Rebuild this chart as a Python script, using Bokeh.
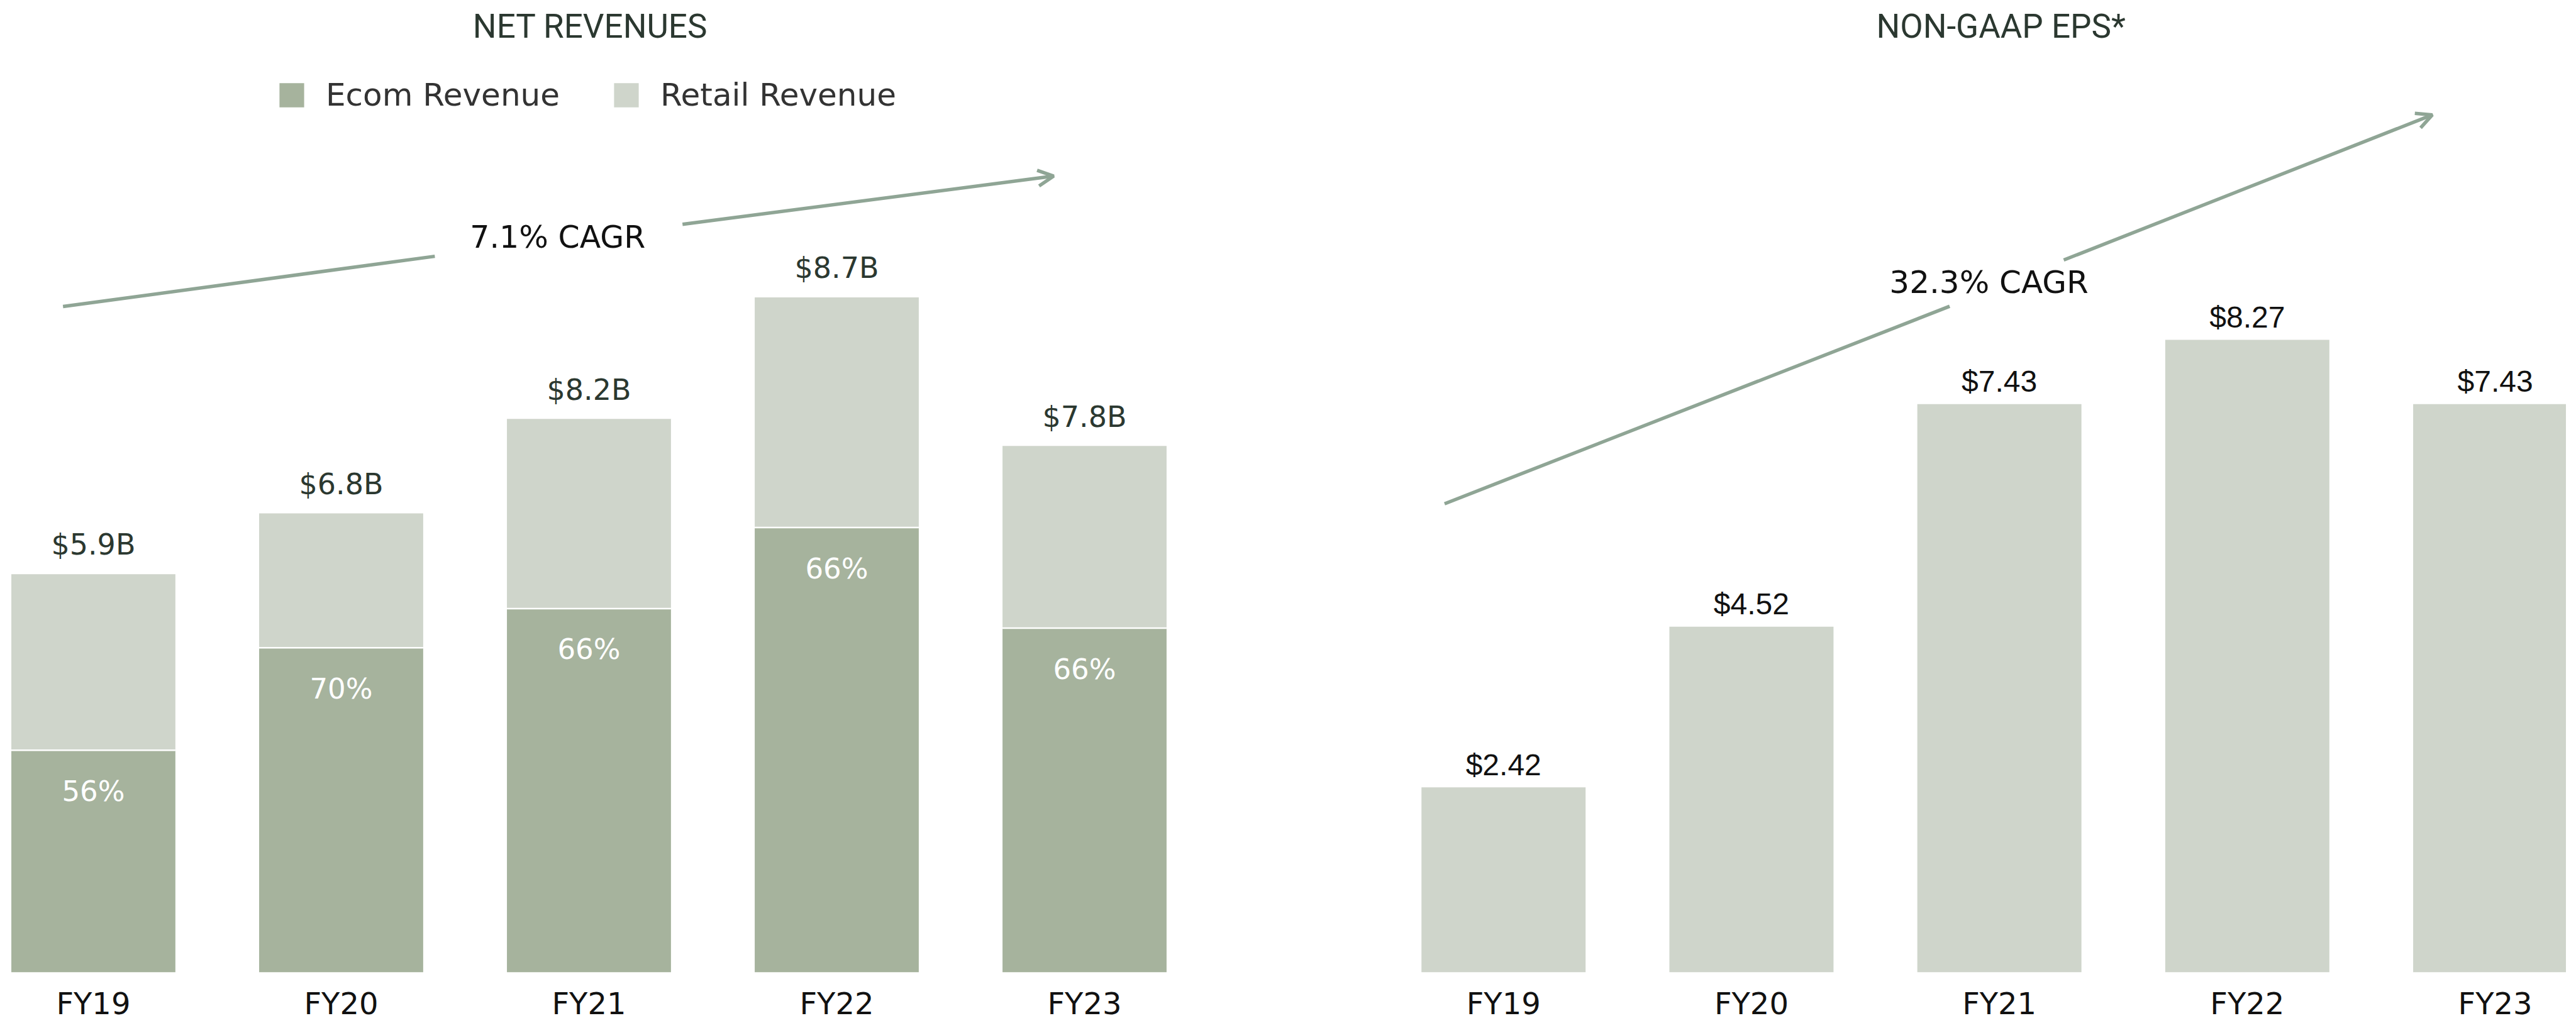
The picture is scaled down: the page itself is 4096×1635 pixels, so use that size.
from bokeh.plotting import figure
from bokeh.layouts import row
from bokeh.models import (Range1d, FixedTicker, Arrow, OpenHead, Label, Legend, LegendItem)
from bokeh.core.properties import value
from bokeh.embed import file_html
from bokeh.resources import INLINE

# ---------------- data ----------------
categories = ["FY19", "FY20", "FY21", "FY22", "FY23"]
series_names = ["Ecom Revenue", "Retail Revenue"]
# bar segment heights in $B, as drawn in the picture
ecom_revenue = [3.29, 4.81, 5.39, 6.59, 5.10]
retail_revenue = [2.61, 1.99, 2.81, 3.41, 2.70]
total_labels = ["$5.9B", "$6.8B", "$8.2B", "$8.7B", "$7.8B"]
ecom_share_labels = ["56%", "70%", "66%", "66%", "66%"]
eps = [2.42, 4.52, 7.43, 8.27, 7.43]
eps_labels = ["$2.42", "$4.52", "$7.43", "$8.27", "$7.43"]
revenue_cagr = "7.1% CAGR"
eps_cagr = "32.3% CAGR"
titles = ["NET REVENUES", "NON-GAAP EPS*"]

# ---------------- style / geometry ----------------
S = 0.987
H = 1626
W1, W2 = 2000, 2080
FRAME_H = 1548
BORDER_B = H - FRAME_H
ECOM = "#a6b39d"
RETAIL = "#cfd5cb"
ARROW = "#8fa595"
DARK = "#2b3830"
BLACK = "#111111"
BAR_W = 0.662
SANS = "DejaVu Sans"
TITLE_FONT = "Roboto"


def c(v):
    return S * v


x0L, pL, ppuL = c(149.9), S * 399.2, S * 108.9
x0R, pR, ppuR = c(2421.7) - W1, S * 399.4, S * 123.4


def dL(xr, yr):
    return (c(xr) - x0L) / pL, (FRAME_H - c(yr)) / ppuL


def dR(xr, yr):
    return (c(xr) - W1 - x0R) / pR, (FRAME_H - c(yr)) / ppuR


xs = list(range(len(categories)))
totals = [e + r for e, r in zip(ecom_revenue, retail_revenue)]


def make_fig(width, x0, pitch, ppu):
    p = figure(width=width, height=H,
               x_range=Range1d(-x0 / pitch, (width - x0) / pitch),
               y_range=Range1d(0, FRAME_H / ppu),
               output_backend="svg", toolbar_location=None,
               y_axis_location=None, min_border=0,
               min_border_left=0, min_border_right=0, min_border_top=0,
               min_border_bottom=BORDER_B, outline_line_color=None,
               background_fill_color="white", border_fill_color="white")
    p.xgrid.visible = False
    p.ygrid.visible = False
    ax = p.xaxis[0]
    ax.ticker = FixedTicker(ticks=xs)
    ax.major_label_overrides = {i: cat for i, cat in enumerate(categories)}
    ax.axis_line_color = None
    ax.major_tick_line_color = None
    ax.minor_tick_line_color = None
    ax.major_tick_out = 0
    ax.major_tick_in = 0
    ax.major_label_standoff = 21
    ax.major_label_text_font = SANS
    ax.major_label_text_font_size = "48px"
    ax.major_label_text_color = BLACK
    return p


# ---------------- left: net revenues ----------------
p1 = make_fig(W1, x0L, pL, ppuL)
r_ecom = p1.vbar(x=xs, top=ecom_revenue, width=BAR_W, fill_color=ECOM, line_color=None)
r_retail = p1.vbar(x=xs, bottom=ecom_revenue, top=totals, width=BAR_W,
                   fill_color=RETAIL, line_color=None)
p1.segment(x0=[x - BAR_W / 2 for x in xs], x1=[x + BAR_W / 2 for x in xs],
           y0=ecom_revenue, y1=ecom_revenue, line_color="white", line_width=2.5)
p1.text(x=xs, y=totals, text=total_labels, text_align="center", text_baseline="middle",
        y_offset=-46.7, text_font=value(SANS), text_font_size="46px", text_color=DARK)
p1.text(x=xs, y=ecom_revenue, text=ecom_share_labels, text_align="center",
        text_baseline="middle", y_offset=65, text_font=value(SANS),
        text_font_size="45px", text_color="white")

legend = Legend(items=[LegendItem(label=series_names[0], renderers=[r_ecom]),
                       LegendItem(label=series_names[1], renderers=[r_retail])],
                orientation="horizontal", location=(439, 1366),
                glyph_width=49, glyph_height=48, label_standoff=30, spacing=81,
                padding=0, margin=0, border_line_color=None,
                background_fill_alpha=0, label_text_font=SANS,
                label_text_font_size="50px", label_text_color="#333333")
p1.add_layout(legend)

tx, ty = dL(950.5, 42)
p1.add_layout(Label(x=tx, y=ty, text=titles[0], text_align="center", text_baseline="middle",
                    text_font=TITLE_FONT, text_font_size="53px", text_color=DARK))

a0 = dL(101, 494); a1 = dL(700, 413); a2 = dL(1099, 361.5); a3 = dL(1697, 283.6)
p1.add_layout(Arrow(x_start=a0[0], y_start=a0[1], x_end=a1[0], y_end=a1[1], end=None,
                    line_color=ARROW, line_width=5.5))
p1.add_layout(Arrow(x_start=a2[0], y_start=a2[1], x_end=a3[0], y_end=a3[1],
                    end=OpenHead(size=25, line_color=ARROW, line_width=5.5),
                    line_color=ARROW, line_width=5.5))
lx, ly = dL(898, 382)
p1.add_layout(Label(x=lx, y=ly, text=revenue_cagr, text_align="center", text_baseline="middle",
                    text_font=SANS, text_font_size="49px", text_color=BLACK))

# ---------------- right: non-GAAP EPS ----------------
p2 = make_fig(W2, x0R, pR, ppuR)
p2.vbar(x=xs, top=eps, width=BAR_W, fill_color=RETAIL, line_color=None)
p2.text(x=xs, y=eps, text=eps_labels, text_align="center", text_baseline="middle",
        y_offset=-36, text_font=value("Liberation Sans"), text_font_size="48px",
        text_color=BLACK)

tx, ty = dR(3223, 42)
p2.add_layout(Label(x=tx, y=ty, text=titles[1], text_align="center", text_baseline="middle",
                    text_font=TITLE_FONT, text_font_size="53px", text_color=DARK))

b0 = dR(2326.7, 812.3); b1 = dR(3140.4, 493.7); b2 = dR(3324.2, 419); b3 = dR(3918, 184.8)
p2.add_layout(Arrow(x_start=b0[0], y_start=b0[1], x_end=b1[0], y_end=b1[1], end=None,
                    line_color=ARROW, line_width=5.5))
p2.add_layout(Arrow(x_start=b2[0], y_start=b2[1], x_end=b3[0], y_end=b3[1],
                    end=OpenHead(size=25, line_color=ARROW, line_width=5.5),
                    line_color=ARROW, line_width=5.5))
lx, ly = dR(3203.7, 455.5)
p2.add_layout(Label(x=lx, y=ly, text=eps_cagr, text_align="center", text_baseline="middle",
                    text_font=SANS, text_font_size="50px", text_color=BLACK))

layout = row(p1, p2, spacing=0)
open("out.html", "w").write(file_html(layout, INLINE))
